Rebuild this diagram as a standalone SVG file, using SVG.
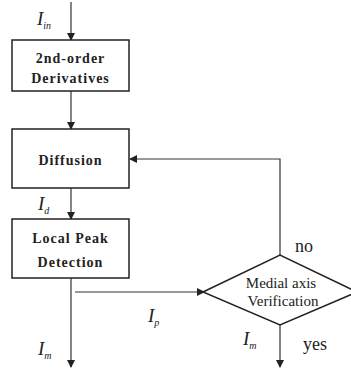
<svg xmlns="http://www.w3.org/2000/svg" width="351" height="369" viewBox="0 0 351 369">
<style>
.box{fill:#fff;stroke:#222;stroke-width:1.5}
.bt{font-family:"Liberation Serif","DejaVu Serif",serif;font-weight:bold;font-size:14px;letter-spacing:1px;fill:#222;text-anchor:middle}
.dt{font-family:"Liberation Serif","DejaVu Serif",serif;font-size:15px;fill:#222;text-anchor:middle}
.lbl{font-family:"Liberation Serif","DejaVu Serif",serif;font-style:italic;font-size:19px;fill:#222}
.sub{font-size:10px}
.wd{font-family:"Liberation Serif","DejaVu Serif",serif;font-size:18px;fill:#222}
.ln{fill:none;stroke:#333;stroke-width:1.2}
</style>
<defs>
<marker id="ah" markerWidth="8" markerHeight="8" refX="7" refY="4" orient="auto" markerUnits="userSpaceOnUse">
<path d="M0,0 L8,4 L0,8 Z" fill="#222"/>
</marker>
</defs>
<g id="connectors">
<line class="ln" x1="71" y1="2" x2="71" y2="40" marker-end="url(#ah)"/>
<line class="ln" x1="71" y1="91" x2="71" y2="129" marker-end="url(#ah)"/>
<line class="ln" x1="71" y1="188" x2="71" y2="219" marker-end="url(#ah)"/>
<line class="ln" x1="71" y1="278" x2="71" y2="367" marker-end="url(#ah)"/>
<line class="ln" x1="75" y1="292" x2="204" y2="292" marker-end="url(#ah)"/>
<polyline class="ln" points="280,255 280,159 130,159" marker-end="url(#ah)"/>
<line class="ln" x1="280" y1="325" x2="280" y2="367" marker-end="url(#ah)"/>
</g>
<g id="n_in"><text class="lbl" x="37" y="25">I<tspan class="sub" dy="4">in</tspan></text></g>
<g id="n1">
<rect class="box" x="12" y="40" width="117" height="51"/>
<text class="bt" x="70.5" y="63">2nd-order</text>
<text class="bt" x="70.5" y="83">Derivatives</text>
</g>
<g id="n2">
<rect class="box" x="12" y="129" width="117" height="59"/>
<text class="bt" x="70.5" y="165">Diffusion</text>
</g>
<g id="n_d"><text class="lbl" x="38" y="210">I<tspan class="sub" dy="4">d</tspan></text></g>
<g id="n3">
<rect class="box" x="12" y="219" width="117" height="59"/>
<text class="bt" x="70.5" y="243">Local Peak</text>
<text class="bt" x="70.5" y="267">Detection</text>
</g>
<g id="n4">
<polygon class="box" points="203,292 280,255 357,292 280,325"/>
<text class="dt" x="281" y="288">Medial axis</text>
<text class="dt" x="283" y="306">Verification</text>
</g>
<g id="labels">
<text class="lbl" x="38" y="355">I<tspan class="sub" dy="4">m</tspan></text>
<text class="lbl" x="148" y="322">I<tspan class="sub" dy="4">p</tspan></text>
<text class="lbl" x="243" y="345">I<tspan class="sub" dy="4">m</tspan></text>
<text class="wd" x="295" y="252">no</text>
<text class="wd" x="303" y="350">yes</text>
</g>
</svg>
